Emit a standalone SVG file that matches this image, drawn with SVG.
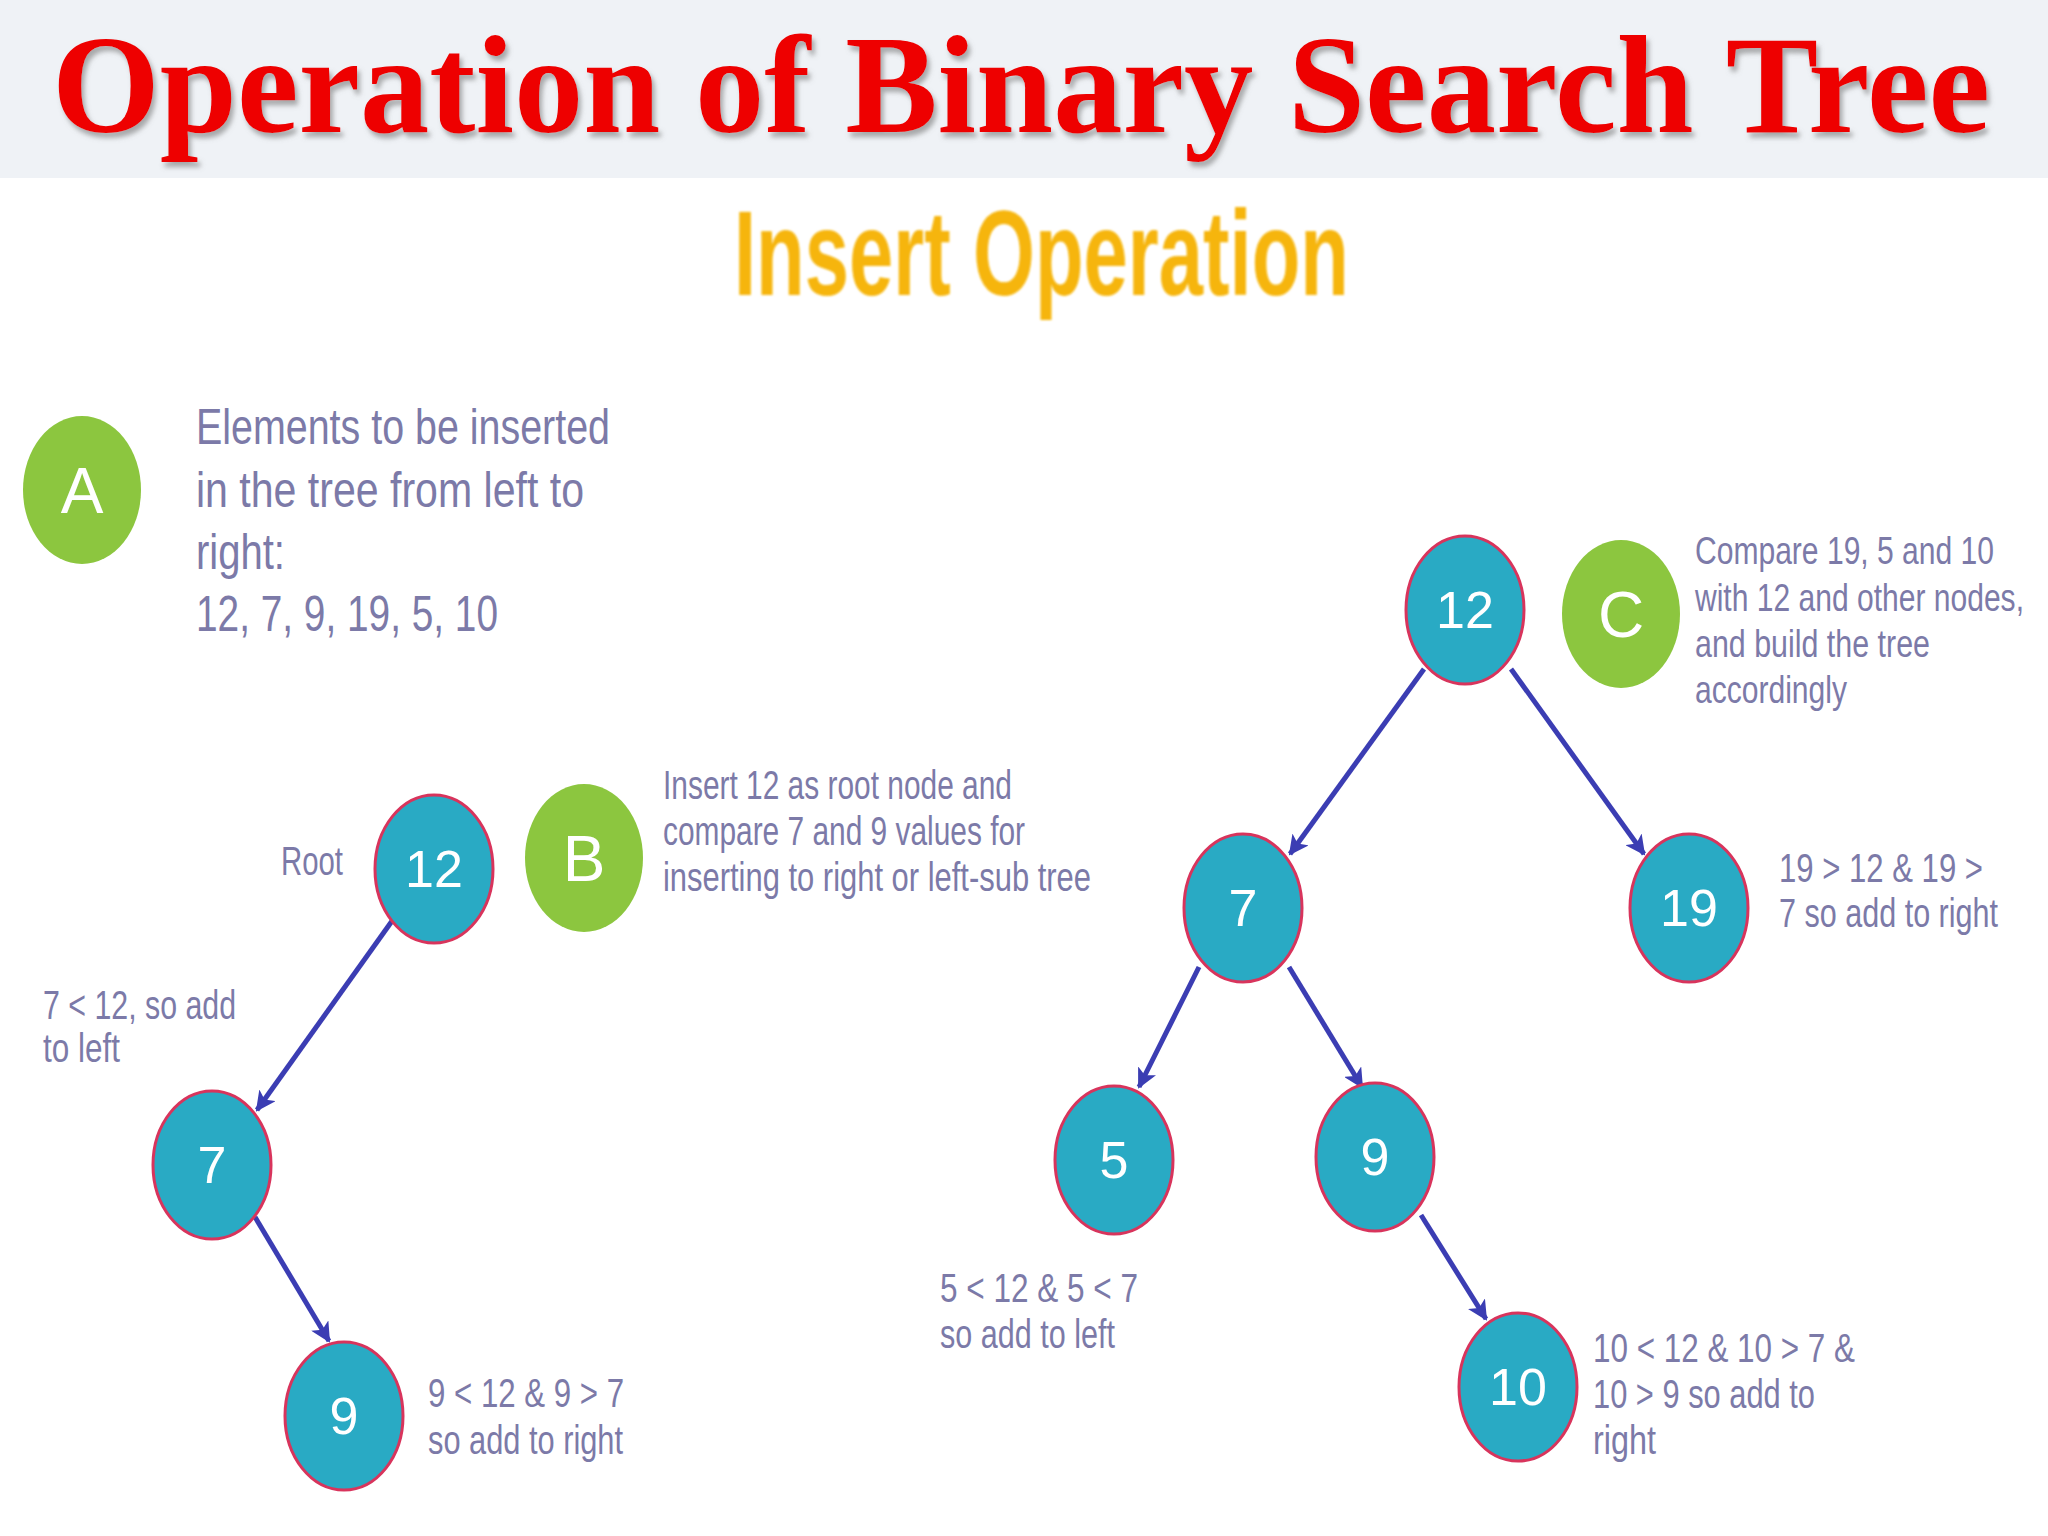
<svg xmlns="http://www.w3.org/2000/svg" width="2048" height="1536" viewBox="0 0 2048 1536">
<defs>
<style>
.node ellipse{fill:#29aac4;stroke:#d8345c;stroke-width:3}
.node text{fill:#ffffff;font-family:"Liberation Sans",Arial,sans-serif;font-size:52px;text-anchor:middle}
.badge ellipse{fill:#8cc63f}
.badge text{fill:#ffffff;font-family:"Liberation Sans",Arial,sans-serif;font-size:64px;text-anchor:middle}
.lbl{fill:#7c7aa8;font-family:"Liberation Sans",Arial,sans-serif;font-size:40px}
.big{font-size:50px}
.sm{font-size:30px}
.edge{stroke:#3b3db3;stroke-width:5;fill:none;marker-end:url(#arr)}
</style>
<marker id="arr" markerUnits="userSpaceOnUse" markerWidth="20" markerHeight="20" viewBox="0 0 10 10" refX="9" refY="5" orient="auto">
<path d="M0,0 L10,5 L0,10 L2.5,5 z" fill="#3b3db3"/>
</marker>
<filter id="shadow" x="-5%" y="-20%" width="110%" height="150%">
<feDropShadow dx="3" dy="5" stdDeviation="2.5" flood-color="#777777" flood-opacity="0.6"/>
</filter>
<filter id="soft" x="-5%" y="-20%" width="110%" height="140%">
<feGaussianBlur stdDeviation="1.2"/>
</filter>
</defs>
<rect x="0" y="0" width="2048" height="1536" fill="#ffffff"/>
<rect x="0" y="0" width="2048" height="178" fill="#eff2f6"/>
<text x="52" y="132" font-family="Liberation Serif,Times New Roman,serif" font-weight="bold" font-size="140" fill="#ee0000" textLength="1938" lengthAdjust="spacingAndGlyphs" filter="url(#shadow)">Operation of Binary Search Tree</text>
<text x="734" y="295" font-family="Liberation Sans Narrow,Liberation Sans,Arial,sans-serif" font-weight="bold" font-size="120" fill="#f6b508" textLength="615" lengthAdjust="spacingAndGlyphs" filter="url(#soft)">Insert Operation</text>

<g id="connectors">
<line class="edge" x1="392" y1="921" x2="257" y2="1110"/>
<line class="edge" x1="255" y1="1217" x2="329" y2="1341"/>
<line class="edge" x1="1424" y1="669" x2="1290" y2="854"/>
<line class="edge" x1="1511" y1="669" x2="1644" y2="854"/>
<line class="edge" x1="1199" y1="967" x2="1139" y2="1087"/>
<line class="edge" x1="1289" y1="967" x2="1362" y2="1087"/>
<line class="edge" x1="1421" y1="1215" x2="1486" y2="1319"/>
</g>

<g id="badgeA" class="badge"><ellipse cx="82" cy="490" rx="59" ry="74"/><text x="82" y="513">A</text></g>
<g id="badgeB" class="badge"><ellipse cx="584" cy="858" rx="59" ry="74"/><text x="584" y="881">B</text></g>
<g id="badgeC" class="badge"><ellipse cx="1621" cy="614" rx="59" ry="74"/><text x="1621" y="637">C</text></g>

<g id="textA" class="lbl big">
<text x="196" y="444" textLength="414" lengthAdjust="spacingAndGlyphs">Elements to be inserted</text>
<text x="196" y="507" textLength="388" lengthAdjust="spacingAndGlyphs">in the tree from left to</text>
<text x="196" y="569" textLength="89" lengthAdjust="spacingAndGlyphs">right:</text>
<text x="196" y="631" textLength="302" lengthAdjust="spacingAndGlyphs">12, 7, 9, 19, 5, 10</text>
</g>

<g id="nodeL12" class="node"><ellipse cx="434" cy="869" rx="59" ry="74"/><text x="434" y="887">12</text></g>
<g id="nodeL7" class="node"><ellipse cx="212" cy="1165" rx="59" ry="74"/><text x="212" y="1183">7</text></g>
<g id="nodeL9" class="node"><ellipse cx="344" cy="1416" rx="59" ry="74"/><text x="344" y="1434">9</text></g>

<g id="labelsLeft" class="lbl">
<text x="281" y="875" textLength="62" lengthAdjust="spacingAndGlyphs">Root</text>
<text x="663" y="799" textLength="349" lengthAdjust="spacingAndGlyphs">Insert 12 as root node and</text>
<text x="663" y="845" textLength="362" lengthAdjust="spacingAndGlyphs">compare 7 and 9 values for</text>
<text x="663" y="891" textLength="428" lengthAdjust="spacingAndGlyphs">inserting to right or left-sub tree</text>
<text x="43" y="1019" textLength="193" lengthAdjust="spacingAndGlyphs">7 &lt; 12, so add</text>
<text x="43" y="1062" textLength="77" lengthAdjust="spacingAndGlyphs">to left</text>
<text x="428" y="1407" textLength="196" lengthAdjust="spacingAndGlyphs">9 &lt; 12 &amp; 9 &gt; 7</text>
<text x="428" y="1454" textLength="195" lengthAdjust="spacingAndGlyphs">so add to right</text>
</g>

<g id="nodeR12" class="node"><ellipse cx="1465" cy="610" rx="59" ry="74"/><text x="1465" y="628">12</text></g>
<g id="nodeR7" class="node"><ellipse cx="1243" cy="908" rx="59" ry="74"/><text x="1243" y="926">7</text></g>
<g id="nodeR19" class="node"><ellipse cx="1689" cy="908" rx="59" ry="74"/><text x="1689" y="926">19</text></g>
<g id="nodeR5" class="node"><ellipse cx="1114" cy="1160" rx="59" ry="74"/><text x="1114" y="1178">5</text></g>
<g id="nodeR9" class="node"><ellipse cx="1375" cy="1157" rx="59" ry="74"/><text x="1375" y="1175">9</text></g>
<g id="nodeR10" class="node"><ellipse cx="1518" cy="1387" rx="59" ry="74"/><text x="1518" y="1405">10</text></g>

<g id="labelsRight" class="lbl">
<text class="sm" transform="translate(1695 564) scale(1 1.27)" textLength="299" lengthAdjust="spacingAndGlyphs">Compare 19, 5 and 10</text>
<text class="sm" transform="translate(1695 611) scale(1 1.27)" textLength="329" lengthAdjust="spacingAndGlyphs">with 12 and other nodes,</text>
<text class="sm" transform="translate(1695 657) scale(1 1.27)" textLength="235" lengthAdjust="spacingAndGlyphs">and build the tree</text>
<text class="sm" transform="translate(1695 703) scale(1 1.27)" textLength="152" lengthAdjust="spacingAndGlyphs">accordingly</text>
<text class="sm" transform="translate(1779 882) scale(1 1.33)" textLength="204" lengthAdjust="spacingAndGlyphs">19 &gt; 12 &amp; 19 &gt;</text>
<text class="sm" transform="translate(1779 927) scale(1 1.33)" textLength="219" lengthAdjust="spacingAndGlyphs">7 so add to right</text>
<text x="940" y="1302" textLength="198" lengthAdjust="spacingAndGlyphs">5 &lt; 12 &amp; 5 &lt; 7</text>
<text x="940" y="1348" textLength="175" lengthAdjust="spacingAndGlyphs">so add to left</text>
<text x="1593" y="1362" textLength="262" lengthAdjust="spacingAndGlyphs">10 &lt; 12 &amp; 10 &gt; 7 &amp;</text>
<text x="1593" y="1408" textLength="222" lengthAdjust="spacingAndGlyphs">10 &gt; 9 so add to</text>
<text x="1593" y="1454" textLength="63" lengthAdjust="spacingAndGlyphs">right</text>
</g>
</svg>
